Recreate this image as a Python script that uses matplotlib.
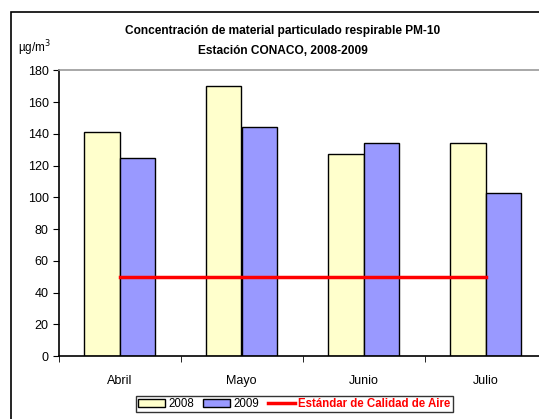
import matplotlib
matplotlib.use("Agg")
import matplotlib.pyplot as plt
import numpy as np
from matplotlib.patches import Patch, Rectangle
from matplotlib.lines import Line2D

plt.rcParams["font.family"] = ["Liberation Sans", "DejaVu Sans"]

meses = ["Abril", "Mayo", "Junio", "Julio"]
pm10_2008 = [141, 170, 127, 134]
pm10_2009 = [125, 144, 134, 103]
estandar = 50

C_2008 = "#FFFFCC"
C_2009 = "#9999FF"
C_STD = "#FF0000"

W, H = 539, 419
fig = plt.figure(figsize=(W / 100, H / 100), dpi=100)

# marco exterior (recortado a la derecha y abajo)
fig.patches.append(Rectangle((11 / W, -0.05), 1.2, 1 - 12 / H + 0.05,
                             transform=fig.transFigure, fill=False,
                             edgecolor="black", linewidth=1.2))

ax = fig.add_axes([58.5 / W, 1 - 356 / H, 488 / W, (356 - 70.3) / H])
x = np.arange(len(meses))
bw = 0.287
ax.bar(x - bw / 2, pm10_2008, bw, color=C_2008, edgecolor="black", linewidth=1)
ax.bar(x + bw / 2, pm10_2009, bw, color=C_2009, edgecolor="black", linewidth=1)
ax.plot([x[0], x[-1]], [estandar, estandar], color=C_STD, linewidth=2.5)

ax.set_xlim(-0.5, len(meses) - 0.5)
ax.set_ylim(0, 180)
ax.set_yticks(np.arange(0, 181, 20))
ax.set_xticks(x)
ax.set_xticklabels(meses, fontsize=9)
ax.set_xticks(np.arange(-0.5, len(meses), 1), minor=True)
ax.tick_params(axis="x", which="major", length=0, pad=14)
ax.tick_params(axis="x", which="minor", length=4, direction="out")
ax.tick_params(axis="y", labelsize=9, length=4, direction="out", pad=3)

ax.spines["top"].set_color("#999999")
ax.spines["top"].set_linewidth(1.2)
ax.spines["right"].set_visible(False)
for s in ("left", "bottom"):
    ax.spines[s].set_linewidth(1.2)

fig.text(283 / W, 1 - 31 / H, "Concentración de material particulado respirable PM-10",
         ha="center", va="center", fontsize=8.6, fontweight="bold")
fig.text(283 / W, 1 - 51 / H, "Estación CONACO, 2008-2009",
         ha="center", va="center", fontsize=8.6, fontweight="bold")
fig.text(18 / W, 1 - 48 / H, "µg/m$^3$", ha="left", va="center", fontsize=8.5)

handles = [
    Patch(facecolor=C_2008, edgecolor="black", linewidth=1, label="2008"),
    Patch(facecolor=C_2009, edgecolor="black", linewidth=1, label="2009"),
    Line2D([], [], color=C_STD, linewidth=2.5, label="Estándar de Calidad de Aire"),
]
leg = fig.legend(handles=handles, loc="center", bbox_to_anchor=(294.5 / W, 1 - 404 / H),
                 ncol=3, fontsize=8.3, frameon=True, fancybox=False, edgecolor="black",
                 borderpad=0.2, handlelength=2.3, handleheight=0.7, columnspacing=0.8,
                 handletextpad=0.3, borderaxespad=0)
leg.get_frame().set_linewidth(1)
t = leg.get_texts()[2]
t.set_color(C_STD)
t.set_fontweight("bold")

fig.savefig("out.png", dpi=100)
